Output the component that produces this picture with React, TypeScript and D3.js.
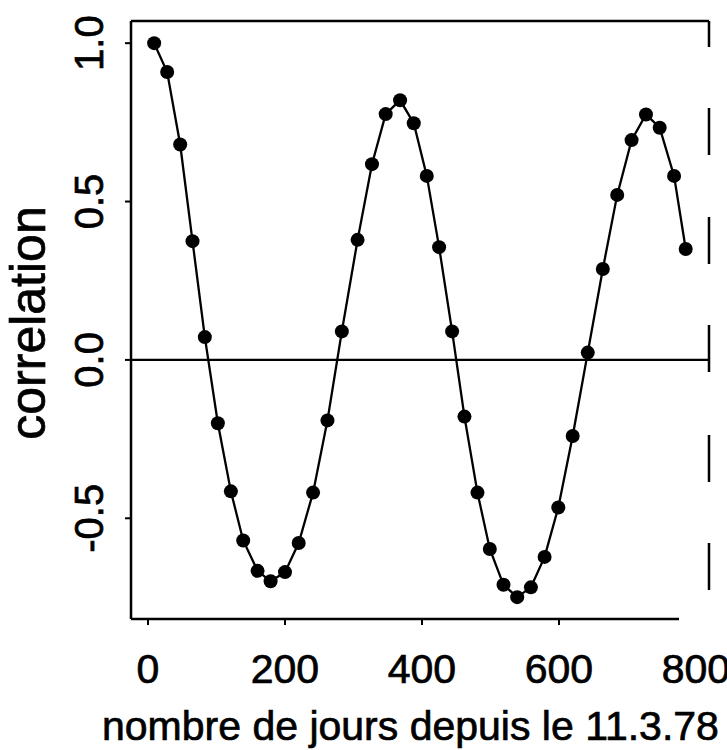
import { useEffect, useRef } from "react";
import * as d3 from "d3";

// lag in days and the autocorrelation at each lag
const days = [
  9, 28, 47, 65, 83, 102, 121, 139, 160, 179, 200, 220, 241, 262, 283, 306, 327,
  347, 368, 388, 407, 425, 444, 462, 481, 499, 519, 539, 559, 579, 599, 620, 642,
  664, 685, 706, 727, 747, 768, 785,
];
const correlation = [
  1.0, 0.909, 0.68, 0.375, 0.072, -0.2, -0.415, -0.57, -0.666, -0.699, -0.67,
  -0.578, -0.419, -0.191, 0.09, 0.379, 0.618, 0.776, 0.82, 0.747, 0.581, 0.356,
  0.09, -0.179, -0.419, -0.597, -0.71, -0.749, -0.718, -0.622, -0.466, -0.24,
  0.023, 0.287, 0.521, 0.694, 0.775, 0.733, 0.581, 0.35,
];
const xTicks = [0, 200, 400, 600, 800];
const yTicks = [-0.5, 0, 0.5, 1];
const xTitle = "nombre de jours depuis le 11.3.78";
const yTitle = "correlation";

export default function App() {
  const ref = useRef<SVGSVGElement>(null);

  useEffect(() => {
    const width = 727;
    const height = 750;
    const left = 131;
    const right = 709;
    const top = 21;
    const bottom = 619;
    const font = "'Liberation Sans', Arial, Helvetica, sans-serif";

    const svg = d3.select(ref.current);
    svg.selectAll("*").remove();
    svg.attr("width", width).attr("height", height);

    svg.append("rect").attr("width", width).attr("height", height).attr("fill", "#fff");

    const x = d3.scaleLinear().domain([-24.8, 819]).range([left, right]);
    const y = d3.scaleLinear().domain([-0.818, 1.07]).range([bottom, top]);

    const pts = days.map((d, i) => [d, correlation[i]] as [number, number]);

    // frame: left, top, bottom solid; right side broken as on the scan
    const frame = svg.append("g").attr("stroke", "#000").attr("fill", "none");
    frame.append("line").attr("x1", left).attr("x2", left).attr("y1", top).attr("y2", bottom).attr("stroke-width", 2.5);
    frame.append("line").attr("x1", left).attr("x2", right).attr("y1", top).attr("y2", top).attr("stroke-width", 2.5);
    frame.append("line").attr("x1", left).attr("x2", right - 30).attr("y1", bottom).attr("y2", bottom).attr("stroke-width", 2.5);
    frame
      .append("line")
      .attr("x1", right)
      .attr("x2", right)
      .attr("y1", top)
      .attr("y2", bottom - 28)
      .attr("stroke-width", 2.5)
      .attr("stroke-dasharray", "26 61 47 62 47 61 47 63 47 61 47");

    // zero reference line
    svg
      .append("line")
      .attr("x1", left)
      .attr("x2", right)
      .attr("y1", y(0))
      .attr("y2", y(0))
      .attr("stroke", "#000")
      .attr("stroke-width", 2.4);

    // x axis
    const xa = svg.append("g");
    xa.selectAll("line")
      .data(xTicks.slice(0, 4))
      .join("line")
      .attr("x1", (d) => x(d))
      .attr("x2", (d) => x(d))
      .attr("y1", bottom)
      .attr("y2", bottom + 6)
      .attr("stroke", "#000")
      .attr("stroke-width", 2);
    xa.selectAll("text")
      .data(xTicks)
      .join("text")
      .attr("x", (d) => x(d))
      .attr("y", 683)
      .attr("text-anchor", "middle")
      .attr("stroke", "#000")
      .attr("stroke-width", 0.7)
      .style("font-family", font)
      .style("font-size", "41px")
      .text((d) => String(d));

    // y axis
    const ya = svg.append("g");
    ya.selectAll("line")
      .data(yTicks)
      .join("line")
      .attr("x1", left - 6)
      .attr("x2", left)
      .attr("y1", (d) => y(d))
      .attr("y2", (d) => y(d))
      .attr("stroke", "#000")
      .attr("stroke-width", 2);
    ya.selectAll("text")
      .data(yTicks)
      .join("text")
      .attr("transform", (d) => `translate(103,${y(d)}) rotate(-90)`)
      .attr("text-anchor", "middle")
      .attr("stroke", "#000")
      .attr("stroke-width", 0.7)
      .style("font-family", font)
      .style("font-size", "40px")
      .text((d) => d.toFixed(1));

    // series
    const line = d3
      .line<[number, number]>()
      .x((d) => x(d[0]))
      .y((d) => y(d[1]));
    svg
      .append("path")
      .datum(pts)
      .attr("d", line)
      .attr("fill", "none")
      .attr("stroke", "#000")
      .attr("stroke-width", 2.3);
    svg
      .append("g")
      .selectAll("circle")
      .data(pts)
      .join("circle")
      .attr("cx", (d) => x(d[0]))
      .attr("cy", (d) => y(d[1]))
      .attr("r", 7)
      .attr("fill", "#000");

    // titles
    svg
      .append("text")
      .attr("x", 102)
      .attr("y", 740)
      .attr("stroke", "#000")
      .attr("stroke-width", 0.7)
      .style("font-family", font)
      .style("font-size", "41px")
      .text(xTitle);
    svg
      .append("text")
      .attr("transform", `translate(45,${(top + bottom) / 2 + 3}) rotate(-90)`)
      .attr("text-anchor", "middle")
      .attr("stroke", "#000")
      .attr("stroke-width", 0.7)
      .style("font-family", font)
      .style("font-size", "50px")
      .text(yTitle);
  }, []);

  return (
    <svg
      ref={ref}
      style={{ position: "absolute", left: 0, top: 0, display: "block" }}
      role="img"
      aria-label="Autocorrelation by lag in days"
    />
  );
}
